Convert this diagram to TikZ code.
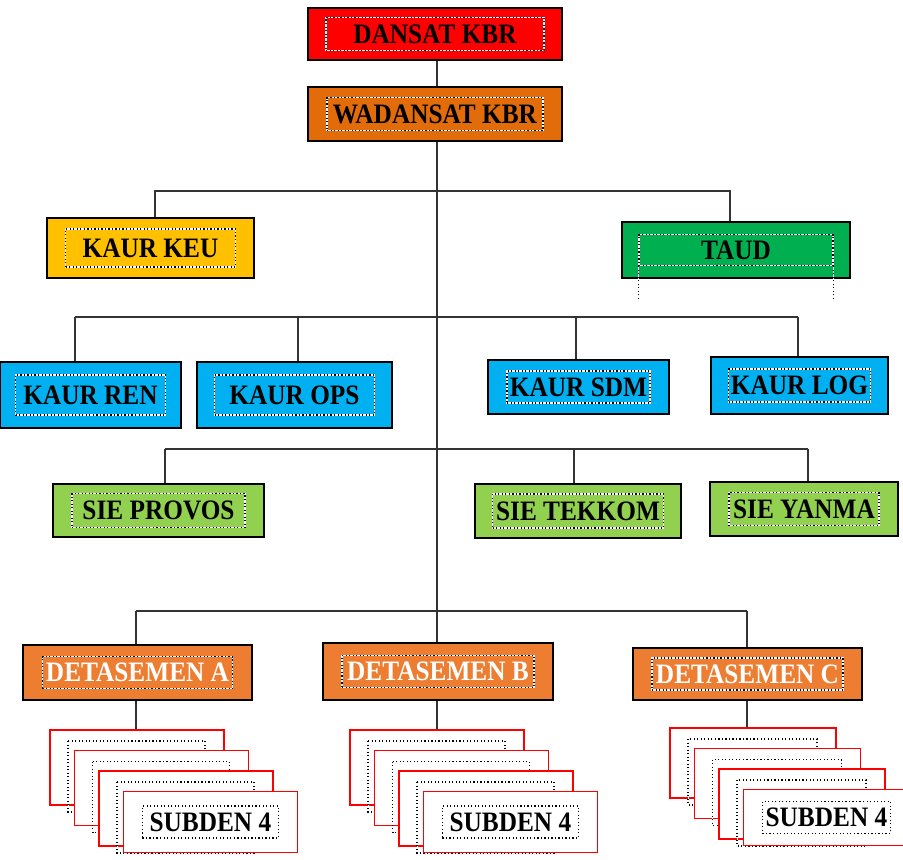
\documentclass[tikz,border=0pt]{standalone}
\usepackage{fontspec}
\setmainfont{Liberation Serif}
\newfontfamily\boxfont[FakeStretch=0.9]{Liberation Serif}

\definecolor{dansatred}{HTML}{FF0000}
\definecolor{wadanorange}{HTML}{E36C0A}
\definecolor{keuyellow}{HTML}{FFC000}
\definecolor{taudgreen}{HTML}{00B050}
\definecolor{kaurcyan}{HTML}{00B0F0}
\definecolor{sielime}{HTML}{92D050}
\definecolor{detorange}{HTML}{ED7D31}

\def\px{0.03cm}

\tikzset{
  orgbox/.style={draw=black, line width=1.5pt, inner sep=0pt},
  subbox/.style={draw=red, fill=white, line width=1.6pt, inner sep=0pt},
  txtframe/.style={draw=black, dotted, line width=1pt, preaction={draw=white, solid},
    inner sep=0pt, font=\boxfont\bfseries\fontsize{24}{26}\selectfont},
  link/.style={draw=black!80, line width=1.6pt}
}

\begin{document}
\begin{tikzpicture}[x=0.03cm, y=-0.03cm]

\useasboundingbox (0,0) rectangle (903,859);

% Command
\node[orgbox, fill=dansatred, minimum width={254*\px}, minimum height={52*\px}] (dansat) at (435,34) {};
\node[txtframe, minimum width={218*\px}, minimum height={33*\px}] (dansat-t) at (dansat) {DANSAT KBR};
\node[orgbox, fill=wadanorange, minimum width={254*\px}, minimum height={54*\px}] (wadan) at (435,114) {};
\node[txtframe, minimum width={216*\px}, minimum height={33*\px}] (wadan-t) at (wadan) {WADANSAT KBR};

% Staff
\node[orgbox, fill=keuyellow, minimum width={207*\px}, minimum height={60*\px}] (keu) at (150.5,248) {};
\node[txtframe, minimum width={170*\px}, minimum height={38*\px}] (keu-t) at (keu) {KAUR KEU};
\node[orgbox, fill=taudgreen, minimum width={228*\px}, minimum height={56*\px}] (taud) at (736,250) {};
\node[txtframe, minimum width={194*\px}, minimum height={31*\px}] (taud-t) at (taud) {TAUD};
\draw[txtframe] (taud-t.south west) -- ++(0,35);
\draw[txtframe] (taud-t.south east) -- ++(0,35);

% Kaur
\node[orgbox, fill=kaurcyan, minimum width={181*\px}, minimum height={66*\px}] (ren) at (90.5,395) {};
\node[txtframe, minimum width={150*\px}, minimum height={40*\px}] (ren-t) at (ren) {KAUR REN};
\node[orgbox, fill=kaurcyan, minimum width={195*\px}, minimum height={66*\px}] (ops) at (294.5,395) {};
\node[txtframe, minimum width={160*\px}, minimum height={40*\px}] (ops-t) at (ops) {KAUR OPS};
\node[orgbox, fill=kaurcyan, minimum width={181*\px}, minimum height={54*\px}] (sdm) at (578.5,387) {};
\node[txtframe, minimum width={143*\px}, minimum height={32*\px}] (sdm-t) at (sdm) {KAUR SDM};
\node[orgbox, fill=kaurcyan, minimum width={177*\px}, minimum height={57*\px}] (log) at (799.5,385.5) {};
\node[txtframe, minimum width={142*\px}, minimum height={33*\px}] (log-t) at (log) {KAUR LOG};

% Sie
\node[orgbox, fill=sielime, minimum width={211*\px}, minimum height={53*\px}] (provos) at (158.5,510.5) {};
\node[txtframe, minimum width={173*\px}, minimum height={34*\px}] (provos-t) at (provos) {SIE PROVOS};
\node[orgbox, fill=sielime, minimum width={206*\px}, minimum height={54*\px}] (tekkom) at (578,511) {};
\node[txtframe, minimum width={171*\px}, minimum height={34*\px}] (tekkom-t) at (tekkom) {SIE TEKKOM};
\node[orgbox, fill=sielime, minimum width={188*\px}, minimum height={54*\px}] (yanma) at (804,509) {};
\node[txtframe, minimum width={150*\px}, minimum height={33*\px}] (yanma-t) at (yanma) {SIE YANMA};

% Detasemen
\node[orgbox, fill=detorange, minimum width={229*\px}, minimum height={55*\px}] (deta) at (137.5,672.5) {};
\node[txtframe, text=white, minimum width={190*\px}, minimum height={32*\px}] (deta-t) at (deta) {DETASEMEN A};
\node[orgbox, fill=detorange, minimum width={230*\px}, minimum height={57*\px}] (detb) at (438,671.5) {};
\node[txtframe, text=white, minimum width={192*\px}, minimum height={32*\px}] (detb-t) at (detb) {DETASEMEN B};
\node[orgbox, fill=detorange, minimum width={229*\px}, minimum height={52*\px}] (detc) at (747.5,674) {};
\node[txtframe, text=white, minimum width={191*\px}, minimum height={32*\px}] (detc-t) at (detc) {DETASEMEN C};

% Subden stacks
\foreach \d/\x/\y/\w/\h in {a/49/729/174/75, b/349/729/174/75, c/669/727/166/70} {
  \foreach \k in {1,2,3} {
    \node[subbox, anchor=north west, minimum width={\w*\px}, minimum height={\h*\px}]
      (sub\d\k) at ({\x+(\k-1)*24.5},{\y+(\k-1)*20.5}) {};
    \draw[txtframe] ([shift={(19,12)}]sub\d\k.north west) rectangle ++({\w-37},{\h-4});
  }
  \node[subbox, anchor=north west, minimum width={\w*\px}, minimum height={(\h-14)*\px}]
    (sub\d4) at ({\x+3*24.5},{\y+3*20.5}) {};
  \node[txtframe, minimum width={(\w-38)*\px}, minimum height={32*\px}] (sub\d4-t) at (sub\d4) {SUBDEN 4};
}

% Links
\coordinate (bus1) at (0,191);
\coordinate (bus2) at (0,317);
\coordinate (bus3) at (0,449);
\coordinate (bus4) at (0,611);

\draw[link] (dansat.south -| 437,0) -- (wadan.north -| 437,0);
\draw[link] (wadan.south -| 437,0) -- (detb.north -| 437,0);

\draw[link] (keu.north -| 155,0) -- (bus1 -| 155,0) -- (bus1 -| 730,0) -- (taud.north -| 730,0);

\draw[link] (bus2 -| 75,0) -- (bus2 -| 798,0);
\foreach \n/\c in {ren/75, ops/298, sdm/576, log/798}
  \draw[link] (\n.north -| \c,0) -- (bus2 -| \c,0);

\draw[link] (bus3 -| 165,0) -- (bus3 -| 808,0);
\foreach \n/\c in {provos/165, tekkom/574, yanma/808}
  \draw[link] (\n.north -| \c,0) -- (bus3 -| \c,0);

\draw[link] (bus4 -| 136,0) -- (bus4 -| 747,0);
\foreach \n/\c in {deta/136, detc/747}
  \draw[link] (\n.north -| \c,0) -- (bus4 -| \c,0);

\draw[link] (deta.south -| 136,0) -- (suba1.north -| 136,0);
\draw[link] (detb.south -| 437,0) -- (subb1.north -| 437,0);
\draw[link] (detc.south -| 747,0) -- (subc1.north -| 747,0);

\end{tikzpicture}
\end{document}
